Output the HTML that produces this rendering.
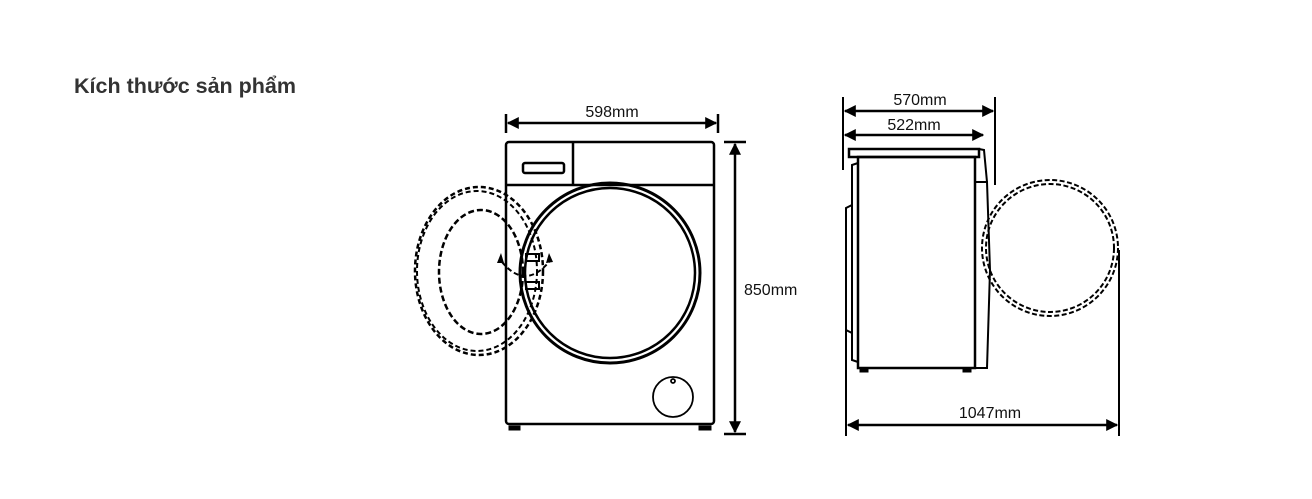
<!DOCTYPE html>
<html><head><meta charset="utf-8"><style>
body{margin:0;background:#fff;width:1312px;height:499px;overflow:hidden}
svg{position:absolute;left:0;top:0}
text{font-family:"Liberation Sans",sans-serif;fill:#111}
</style></head><body>
<svg width="1312" height="499" viewBox="0 0 1312 499" xmlns="http://www.w3.org/2000/svg">
<defs>
<marker id="b" viewBox="0 0 10 10" refX="9" refY="5" markerWidth="12" markerHeight="12" orient="auto-start-reverse" markerUnits="userSpaceOnUse"><path d="M0,0 L10,5 L0,10z" fill="#000"/></marker>
</defs>
<text x="74" y="93" font-size="21.5" font-weight="bold" style="fill:#333">Kích thước sản phẩm</text>

<g stroke="#000" fill="none" stroke-width="2.5">
<!-- front -->
<rect x="506" y="142" width="208" height="282" rx="3"/>
<line x1="506" y1="185" x2="714" y2="185"/>
<line x1="573" y1="142" x2="573" y2="185"/>
<rect x="523" y="163" width="41" height="10" rx="2"/>
<circle cx="610" cy="273" r="90" stroke-width="3"/>
<circle cx="610" cy="273" r="85" stroke-width="2.5"/>
<circle cx="673" cy="397" r="20" stroke-width="1.8"/>
<circle cx="673" cy="381" r="2" stroke-width="1.8"/>
<rect x="526" y="254" width="13" height="7" stroke-width="2"/>
<rect x="526" y="282" width="13" height="7" stroke-width="2"/>
<rect x="509" y="426" width="11" height="4" fill="#000" stroke-width="1"/>
<rect x="699" y="426" width="12" height="4" fill="#000" stroke-width="1"/>
<ellipse cx="479" cy="271" rx="64" ry="84" stroke-dasharray="5 3" stroke-width="2.5"/>
<ellipse cx="477" cy="271" rx="60" ry="80" stroke-dasharray="5 3" stroke-width="2"/>
<ellipse cx="481" cy="272" rx="42" ry="62" stroke-dasharray="6 3" stroke-width="2.5"/>
<path d="M502,262 Q525,290 549,262" stroke-dasharray="5 3" stroke-width="2"/>
<path d="M501,253 l-4,10 l7,0z M549,253 l-3,10 l7,-1z" fill="#000" stroke="none"/>

<!-- front dims -->
<line x1="506" y1="114" x2="506" y2="133"/>
<line x1="718" y1="114" x2="718" y2="133"/>
<line x1="508" y1="123" x2="716" y2="123" marker-start="url(#b)" marker-end="url(#b)"/>
<line x1="724" y1="142" x2="746" y2="142"/>
<line x1="724" y1="434" x2="746" y2="434"/>
<line x1="735" y1="144" x2="735" y2="432" marker-start="url(#b)" marker-end="url(#b)"/>

<!-- side -->
<rect x="849" y="149" width="130" height="8"/>
<rect x="858" y="157" width="117" height="211"/>
<path d="M858,163 L852,165 L852,360 L858,362" stroke-width="2"/>
<path d="M852,205 L846,208 L846,330 L852,333" stroke-width="2"/>
<path d="M975,182 L987,182 L990,270 L987,368 L975,368" stroke-width="2"/>
<path d="M979,149 L984,150 L987,182" stroke-width="2"/>
<rect x="860" y="368" width="8" height="4" fill="#000" stroke-width="1"/>
<rect x="963" y="368" width="8" height="4" fill="#000" stroke-width="1"/>
<circle cx="1050" cy="248" r="68" stroke-dasharray="5 2.5" stroke-width="2"/>
<circle cx="1050" cy="248" r="64" stroke-dasharray="5 2.5" stroke-width="2"/>

<!-- side dims -->
<line x1="843" y1="97" x2="843" y2="170" stroke-width="2"/>
<line x1="995" y1="97" x2="995" y2="185" stroke-width="2"/>
<line x1="845" y1="111" x2="993" y2="111" marker-start="url(#b)" marker-end="url(#b)"/>
<line x1="845" y1="135" x2="983" y2="135" marker-start="url(#b)" marker-end="url(#b)"/>
<line x1="846" y1="300" x2="846" y2="436" stroke-width="2"/>
<line x1="1119" y1="250" x2="1119" y2="436" stroke-width="2"/>
<line x1="848" y1="425" x2="1117" y2="425" marker-start="url(#b)" marker-end="url(#b)"/>
</g>

<text x="612" y="117" font-size="16" text-anchor="middle">598mm</text>
<text x="744" y="295" font-size="16">850mm</text>
<text x="920" y="105" font-size="16" text-anchor="middle">570mm</text>
<text x="914" y="130" font-size="16" text-anchor="middle">522mm</text>
<text x="990" y="418" font-size="16" text-anchor="middle">1047mm</text>
</svg>
</body></html>
